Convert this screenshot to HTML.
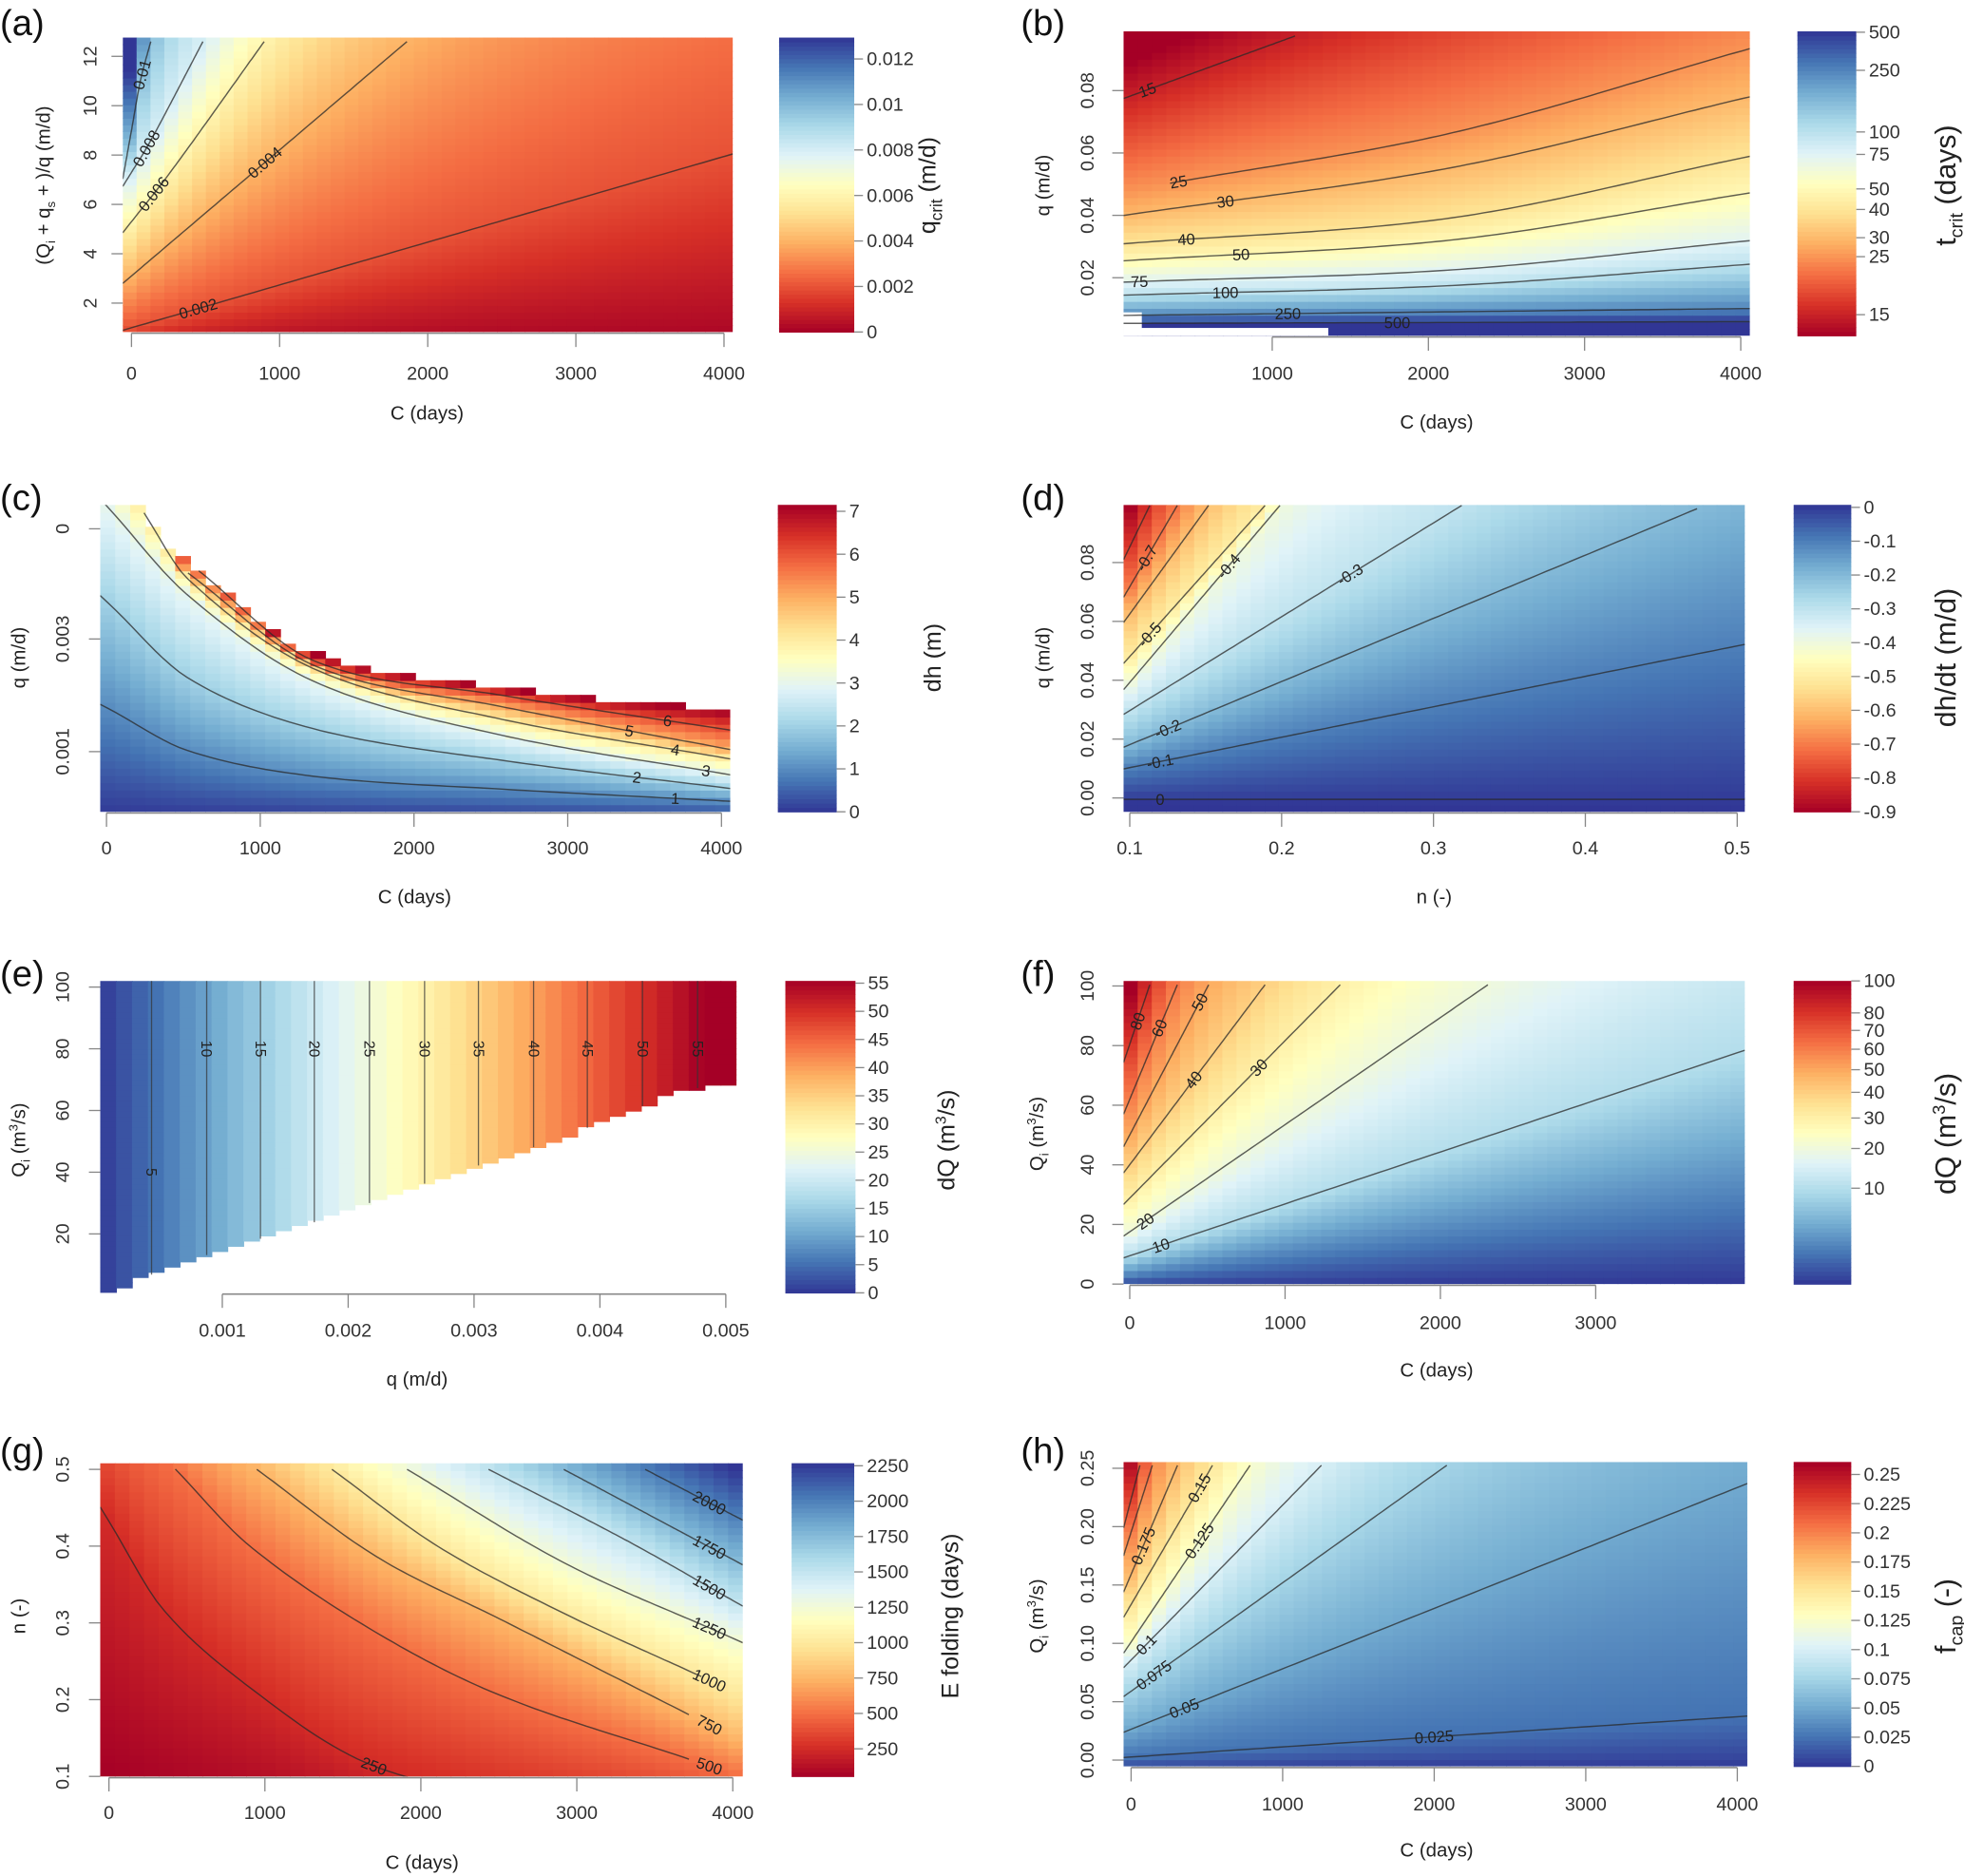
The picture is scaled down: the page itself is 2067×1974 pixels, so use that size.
<!DOCTYPE html>
<html>
<head>
<meta charset="utf-8">
<style>
html,body{margin:0;padding:0;background:#fff;}
svg{display:block;}
text{font-family:"Liberation Sans",Arial,sans-serif;fill:#222;}
.tick{font-size:15px;fill:#333;}
.ttl{font-size:15.5px;fill:#222;}
.letter{font-size:29px;fill:#111;}
.cbt{font-size:19px;fill:#222;}
.cbtb{font-size:23px;fill:#222;}
</style>
</head>
<body>
<svg id="fig" width="2067" height="1974" viewBox="0 0 1568 1497.5" preserveAspectRatio="none" xmlns="http://www.w3.org/2000/svg">
<rect x="0" y="0" width="1568" height="1497.5" fill="#fff"/>
<g id="plots"></g>
<text class="letter" x="0" y="28">(a)</text>
<text class="letter" x="815" y="28">(b)</text>
<text class="letter" x="0" y="407">(c)</text>
<text class="letter" x="815" y="407">(d)</text>
<text class="letter" x="0" y="787">(e)</text>
<text class="letter" x="815" y="787">(f)</text>
<text class="letter" x="0" y="1168">(g)</text>
<text class="letter" x="815" y="1168">(h)</text>
<text class="ttl" x="341" y="335" text-anchor="middle">C (days)</text>
<text class="ttl" x="1147" y="342" text-anchor="middle">C (days)</text>
<text class="ttl" x="331" y="721" text-anchor="middle">C (days)</text>
<text class="ttl" x="1145" y="721" text-anchor="middle">n (-)</text>
<text class="ttl" x="333" y="1106" text-anchor="middle">q (m/d)</text>
<text class="ttl" x="1147" y="1099" text-anchor="middle">C (days)</text>
<text class="ttl" x="337" y="1492" text-anchor="middle">C (days)</text>
<text class="ttl" x="1147" y="1482" text-anchor="middle">C (days)</text>
<text class="ttl" transform="translate(40,148) rotate(-90)" text-anchor="middle">(Q<tspan font-size="10" dy="4">i</tspan><tspan dy="-4"> + q</tspan><tspan font-size="10" dy="4">s</tspan><tspan dy="-4"> + )/q (m/d)</tspan></text>
<text class="ttl" transform="translate(838,148) rotate(-90)" text-anchor="middle">q (m/d)</text>
<text class="ttl" transform="translate(20,525) rotate(-90)" text-anchor="middle">q (m/d)</text>
<text class="ttl" transform="translate(838,525) rotate(-90)" text-anchor="middle">q (m/d)</text>
<text class="ttl" transform="translate(20,910) rotate(-90)" text-anchor="middle">Q<tspan font-size="10" dy="4">i</tspan><tspan dy="-4"> (m</tspan><tspan font-size="10" dy="-6">3</tspan><tspan dy="6">/s)</tspan></text>
<text class="ttl" transform="translate(833,905) rotate(-90)" text-anchor="middle">Q<tspan font-size="10" dy="4">i</tspan><tspan dy="-4"> (m</tspan><tspan font-size="10" dy="-6">3</tspan><tspan dy="6">/s)</tspan></text>
<text class="ttl" transform="translate(20,1290) rotate(-90)" text-anchor="middle">n (-)</text>
<text class="ttl" transform="translate(833,1290) rotate(-90)" text-anchor="middle">Q<tspan font-size="10" dy="4">i</tspan><tspan dy="-4"> (m</tspan><tspan font-size="10" dy="-6">3</tspan><tspan dy="6">/s)</tspan></text>
<text class="cbt" transform="translate(747,148) rotate(-90)" text-anchor="middle">q<tspan font-size="13" dy="5">crit</tspan><tspan dy="-5"> (m/d)</tspan></text>
<text class="cbtb" transform="translate(1561,148) rotate(-90)" text-anchor="middle">t<tspan font-size="15" dy="6">crit</tspan><tspan dy="-6"> (days)</tspan></text>
<text class="cbt" transform="translate(751,525) rotate(-90)" text-anchor="middle">dh (m)</text>
<text class="cbtb" transform="translate(1561,525) rotate(-90)" text-anchor="middle">dh/dt (m/d)</text>
<text class="cbt" transform="translate(762,910) rotate(-90)" text-anchor="middle">dQ (m<tspan font-size="12" dy="-7">3</tspan><tspan dy="7">/s)</tspan></text>
<text class="cbtb" transform="translate(1561,905) rotate(-90)" text-anchor="middle">dQ (m<tspan font-size="14" dy="-8">3</tspan><tspan dy="8">/s)</tspan></text>
<text class="cbt" transform="translate(765,1290) rotate(-90)" text-anchor="middle">E folding (days)</text>
<text class="cbtb" transform="translate(1561,1290) rotate(-90)" text-anchor="middle">f<tspan font-size="15" dy="6">cap</tspan><tspan dy="-6"> (-)</tspan></text>
</svg>
<script>
// (a) q_crit
const aLevels = [0, 0.002, 0.004, 0.006, 0.008, 0.01, 0.012];
const aLabels = [null, "0.002", "0.004", "0.006", "0.008", "0.01", null];
const aLabelX = [0, 450, 900, 150, 100, 70, 0];
const aContours = [
  [[0,0],[4000,0]],
  [[0,1.0],[4000,7.94]],
  [[0,3.1],[1860,12.6]],
  [[0,5.3],[262,7.3],[896,12.6]],
  [[0,7.3],[93,8.2],[203,9.4],[482,12.6]],
  [[0,9.0],[60,11],[130,12.6]],
  [[0,11.0],[40,12.6]]
];
const aXTicks = [0,1000,2000,3000,4000];
const aXTickLabels = ["0","1000","2000","3000","4000"];
const aYTicks = [2,4,6,8,10,12];
const aYTickLabels = ["2","4","6","8","10","12"];
const aCbTicks = [0,0.002,0.004,0.006,0.008,0.01,0.012];
const aCbTickLabels = ["0","0.002","0.004","0.006","0.008","0.01","0.012"];

// (b) t_crit (listed bottom to top)
const bLevels = [500,250,100,75,50,40,30,25,15];
const bLabels = ["500","250","100","75","50","40","30","25","15"];
const bLabelX = [1800,1100,700,150,800,450,700,400,200];
const bContours = [
  [[266,0.0054],[3998,0.0059]],
  [[186,0.008],[3998,0.0101]],
  [[106,0.0145],[2148,0.0175],[3998,0.0241]],
  [[106,0.0187],[2148,0.0225],[3998,0.0316]],
  [[106,0.0256],[2148,0.0321],[3998,0.0467]],
  [[106,0.0311],[2148,0.0392],[3998,0.0583]],
  [[106,0.0404],[2148,0.0553],[3998,0.0773]],
  [[346,0.0503],[2148,0.0664],[3998,0.0926]],
  [[105,0.0785],[1146,0.0975]]
];
const bNotchC = [165, 1359];
const bNotchQ = [0.0089, 0.0039];
const bXTicks = [1000,2000,3000,4000];
const bXTickLabels = ["1000","2000","3000","4000"];
const bYTicks = [0.02,0.04,0.06,0.08];
const bYTickLabels = ["0.02","0.04","0.06","0.08"];
const bCbTicks = [15,25,30,40,50,75,100,250,500];
const bCbTickLabels = ["15","25","30","40","50","75","100","250","500"];

// (c) dh
const cLevels = [0,1,2,3,4,5,6,7.2];
const cLabels = [null,"1","2","3","4","5","6",null];
const cLabelX = [0,3700,3450,3900,3700,3400,3650,0];
const cContours = [
  [[0,-0.02],[4000,-0.02]],
  [[24,0.333],[530,0.199],[1344,0.116],[2566,0.074],[3992,0.036]],
  [[24,0.674],[530,0.436],[1344,0.271],[2566,0.168],[3992,0.080]],
  [[24,0.984],[530,0.705],[1344,0.426],[2566,0.250],[3992,0.126]],
  [[244,0.974],[530,0.758],[1344,0.467],[2566,0.302],[3992,0.178]],
  [[530,0.778],[1344,0.478],[2566,0.343],[3992,0.209]],
  [[600,0.785],[1344,0.493],[2566,0.380],[3992,0.271]],
  [[24,1.0],[530,0.788],[1344,0.519],[2566,0.405],[3992,0.333]]
];
const cXTicks = [0,1000,2000,3000,4000];
const cXTickLabels = ["0","1000","2000","3000","4000"];
const cYTicks = [0.196,0.563,0.922];
const cYTickLabels = ["0.001","0.003","0"];
const cCbTicks = [0,1,2,3,4,5,6,7];
const cCbTickLabels = ["0","1","2","3","4","5","6","7"];

// (d) dh/dt
const dLevels = [0,-0.1,-0.2,-0.3,-0.4,-0.5,-0.6,-0.7,-0.8];
const dLabels = ["0","-0.1","-0.2","-0.3","-0.4","-0.5",null,"-0.7",null];
const dLabelX = [0.12,0.12,0.125,0.245,0.165,0.113,0,0.111,0];
const dContours = [
  [[0.1,-0.0005],[0.5,-0.0005]],
  [[0.1,0.0103],[0.4984,0.0515]],
  [[0.1,0.0181],[0.4736,0.0983]],
  [[0.1025,0.0305],[0.3186,0.0994]],
  [[0.1025,0.0408],[0.1989,0.0994]],
  [[0.1025,0.0495],[0.1891,0.0994]],
  [[0.1025,0.0643],[0.1519,0.0994]],
  [[0.1025,0.0740],[0.1313,0.0994]],
  [[0.1025,0.0880],[0.1132,0.0994]]
];
const dXTicks = [0.1,0.2,0.3,0.4,0.5];
const dXTickLabels = ["0.1","0.2","0.3","0.4","0.5"];
const dYTicks = [0,0.02,0.04,0.06,0.08];
const dYTickLabels = ["0.00","0.02","0.04","0.06","0.08"];
const dCbTicks = [0,-0.1,-0.2,-0.3,-0.4,-0.5,-0.6,-0.7,-0.8,-0.9];
const dCbTickLabels = ["0","-0.1","-0.2","-0.3","-0.4","-0.5","-0.6","-0.7","-0.8","-0.9"];

// (e) dQ vs q
const eLevels = [0,5,10,15,20,25,30,35,40,45,50,55];
const eLevelQ = [0,0.000438,0.000876,0.001303,0.001731,0.002169,0.002607,0.003035,0.003473,0.0039,0.004338,0.004776];
const eBoundQ = [0,0.00008,0.00068,0.00172,0.00272,0.00371,0.00466,0.00508,0.0052];
const eBoundQi = [0,1.0,10.7,23.6,37.9,51.3,66.7,68.7,70];
const eXTicks = [0.001,0.002,0.003,0.004,0.005];
const eXTickLabels = ["0.001","0.002","0.003","0.004","0.005"];
const eYTicks = [20,40,60,80,100];
const eYTickLabels = ["20","40","60","80","100"];
const eCbTicks = [0,5,10,15,20,25,30,35,40,45,50,55];
const eCbTickLabels = ["0","5","10","15","20","25","30","35","40","45","50","55"];

// (f) dQ vs C
const fLevels = [0,10,20,30,40,50,60,80];
const fLabels = [null,"10","20","30","40","50","60","80"];
const fLabelX = [0,200,100,830,411,450,190,50];
const fContours = [
  [[0,-1],[4000,-1]],
  [[24,9.9],[3895,77.3]],
  [[24,18.4],[2306,100.4]],
  [[24,30.1],[1355,100.4]],
  [[24,41.7],[871,100.4]],
  [[24,52.4],[508,100.4]],
  [[24,65],[306,100.4]],
  [[24,84.2],[129,100.4]]
];
const fXTicks = [0,1000,2000,3000];
const fXTickLabels = ["0","1000","2000","3000"];
const fYTicks = [0,20,40,60,80,100];
const fYTickLabels = ["0","20","40","60","80","100"];
const fCbTicks = [10,20,30,40,50,60,70,80,100];
const fCbTickLabels = ["10","20","30","40","50","60","70","80","100"];

// (g) E folding
const gLevels = [0,250,500,750,1000,1250,1500,1750,2000];
const gLabels = [null,"250","500","750","1000","1250","1500","1750","2000"];
const gLabelX = [0,1700,3850,3850,3850,3850,3850,3850,3850];
const gContours = [
  [[0,0],[4000,0]],
  [[8,0.4297],[345,0.3182],[908,0.2151],[1631,0.1193],[2500,0.075],[4000,0.04]],
  [[426,0.5004],[908,0.3993],[1711,0.2878],[2514,0.2052],[3719,0.1226]],
  [[948,0.5],[1711,0.3869],[2514,0.3043],[3719,0.1805]],
  [[1430,0.5],[2112,0.3993],[2916,0.3126],[3799,0.2300]],
  [[1912,0.5],[2916,0.3785],[3960,0.2836]],
  [[2434,0.5],[3317,0.4076],[4000,0.3292]],
  [[2916,0.5],[3960,0.3869]],
  [[3438,0.5],[4000,0.4406]]
];
const gXTicks = [0,1000,2000,3000,4000];
const gXTickLabels = ["0","1000","2000","3000","4000"];
const gYTicks = [0.1,0.2,0.3,0.4,0.5];
const gYTickLabels = ["0.1","0.2","0.3","0.4","0.5"];
const gCbTicks = [250,500,750,1000,1250,1500,1750,2000,2250];
const gCbTickLabels = ["250","500","750","1000","1250","1500","1750","2000","2250"];

// (h) f_cap
const hLevels = [0,0.025,0.05,0.075,0.1,0.125,0.15,0.175,0.2,0.225];
const hLabels = [null,"0.025","0.05","0.075","0.1","0.125","0.15","0.175",null,null];
const hLabelX = [0,2000,350,150,100,450,450,80,0,0];
const hContours = [
  [[0,-0.01],[4000,-0.01]],
  [[17,0.0028],[4008,0.0372]],
  [[17,0.0273],[4025,0.2348]],
  [[17,0.0606],[2083,0.2525]],
  [[17,0.0880],[1256,0.2525]],
  [[17,0.1045],[785,0.2525]],
  [[17,0.1371],[537,0.2525]],
  [[17,0.1643],[306,0.2525]],
  [[17,0.2023],[140,0.2525]],
  [[17,0.2321],[58,0.2525]]
];
const hXTicks = [0,1000,2000,3000,4000];
const hXTickLabels = ["0","1000","2000","3000","4000"];
const hYTicks = [0,0.05,0.1,0.15,0.2,0.25];
const hYTickLabels = ["0.00","0.05","0.10","0.15","0.20","0.25"];
const hCbTicks = [0,0.025,0.05,0.075,0.1,0.125,0.15,0.175,0.2,0.225,0.25];
const hCbTickLabels = ["0","0.025","0.05","0.075","0.1","0.125","0.15","0.175","0.2","0.225","0.25"];

const NS = 'http://www.w3.org/2000/svg';
const root = document.getElementById('plots');
function mk(tag, attrs, parent){
  const e = document.createElementNS(NS, tag);
  for (const k in attrs) e.setAttribute(k, attrs[k]);
  parent.appendChild(e);
  return e;
}
const RDYLBU = [[165,0,38],[215,48,39],[244,109,67],[253,174,97],[254,224,144],[255,255,191],[224,243,248],[171,217,233],[116,173,209],[69,117,180],[49,54,149]];
function cmap(c){
  c = Math.max(0, Math.min(1, c)) * 10;
  const i = Math.min(9, Math.floor(c)); const f = c - i;
  const a = RDYLBU[i], b = RDYLBU[i+1];
  return 'rgb(' + Math.round(a[0]+(b[0]-a[0])*f) + ',' + Math.round(a[1]+(b[1]-a[1])*f) + ',' + Math.round(a[2]+(b[2]-a[2])*f) + ')';
}
// smooth (Hermite) interpolation through points, linear extrapolation outside
function pl(pts, x){
  const n = pts.length;
  if (n === 1) return pts[0][1];
  const sec = i => (pts[i+1][1] - pts[i][1]) / (pts[i+1][0] - pts[i][0]);
  if (x <= pts[0][0]) return pts[0][1] + (x - pts[0][0]) * sec(0);
  if (x >= pts[n-1][0]) return pts[n-1][1] + (x - pts[n-1][0]) * sec(n-2);
  let i = 0;
  while (i < n - 2 && x > pts[i+1][0]) i++;
  if (n === 2) return pts[0][1] + (x - pts[0][0]) * sec(0);
  const tan = k => {
    if (k === 0) return sec(0);
    if (k === n - 1) return sec(n - 2);
    return (pts[k+1][1] - pts[k-1][1]) / (pts[k+1][0] - pts[k-1][0]);
  };
  const x1 = pts[i][0], x2 = pts[i+1][0], h = x2 - x1;
  const t = (x - x1) / h;
  const y1 = pts[i][1], y2 = pts[i+1][1];
  const m1 = tan(i) * h, m2 = tan(i+1) * h;
  const t2 = t*t, t3 = t2*t;
  return (2*t3 - 3*t2 + 1) * y1 + (t3 - 2*t2 + t) * m1 + (-2*t3 + 3*t2) * y2 + (t3 - t2) * m2;
}
function contourField(P, x, y){
  const ys = P.contours.map(c => pl(c, x));
  const ss = P.levels.map(P.sc);
  const n = ys.length;
  let i = 0;
  while (i < n && y >= ys[i]) i++;
  let s, above = false;
  if (i === 0) {
    const d = ys[1] - ys[0];
    s = ss[0] + (Math.abs(d) > 1e-12 ? (y - ys[0]) * (ss[1] - ss[0]) / d : 0);
  } else if (i === n) {
    const d = ys[n-1] - ys[n-2];
    s = ss[n-1] + (d > 1e-12 ? (y - ys[n-1]) * (ss[n-1] - ss[n-2]) / d : (ss[n-1] - ss[n-2]));
    above = true;
  } else {
    const d = ys[i] - ys[i-1];
    s = ss[i-1] + (d > 1e-12 ? (y - ys[i-1]) / d * (ss[i] - ss[i-1]) : 0);
  }
  return {s: s, above: above};
}

const panels = [
 {key:'a', box:[98,30,585,265], xr:[-59,4059], yr:[0.83,12.76], cb:[622,30,682,265],
  levels:aLevels, contours:aContours, labels:aLabels, labelX:aLabelX, sc:v=>v/0.01294, blueHigh:true,
  xTicks:aXTicks, xTickLabels:aXTickLabels, yTicks:aYTicks, yTickLabels:aYTickLabels, cbTicks:aCbTicks, cbTickLabels:aCbTickLabels, yLabX:72, xLabY:298, nx:44, ny:44},
 {key:'b', box:[897,25,1397,268], xr:[48,4058], yr:[0.0014,0.099], cb:[1435,25,1482,268],
  levels:bLevels, contours:bContours, labels:bLabels, labelX:bLabelX, sc:v=>(403-760*Math.pow(v,-0.25))/243, blueHigh:true,
  xTicks:bXTicks, xTickLabels:bXTickLabels, yTicks:bYTicks, yTickLabels:bYTickLabels, cbTicks:bCbTicks, cbTickLabels:bCbTickLabels, yLabX:868, xLabY:298, nx:44, ny:44},
 {key:'c', box:[80,403,583,648], xr:[-41,4057], yr:[0,1], cb:[621,403,668,648],
  levels:cLevels, contours:cContours, labels:cLabels, labelX:cLabelX, sc:v=>v/7.15, blueHigh:false, whiteAbove:true,
  xTicks:cXTicks, xTickLabels:cXTickLabels, yTicks:cYTicks, yTickLabels:cYTickLabels, cbTicks:cCbTicks, cbTickLabels:cCbTickLabels, yLabX:50, xLabY:677, nx:42, ny:42},
 {key:'d', box:[897,403,1393,648], xr:[0.0959,0.505], yr:[-0.0047,0.0996], cb:[1432,403,1478,648],
  levels:dLevels, contours:dContours, labels:dLabels, labelX:dLabelX, sc:v=>(v+0.9)/0.9074, blueHigh:true,
  xTicks:dXTicks, xTickLabels:dXTickLabels, yTicks:dYTicks, yTickLabels:dYTickLabels, cbTicks:dCbTicks, cbTickLabels:dCbTickLabels, yLabX:868, xLabY:677, nx:44, ny:44},
 {key:'e', box:[80,783,588,1032], xr:[0.00003,0.005085], yr:[0.9,102], cb:[627,783,683,1032],
  sc:v=>v/55.4, blueHigh:false, bands:true,
  xTicks:eXTicks, xTickLabels:eXTickLabels, yTicks:eYTicks, yTickLabels:eYTickLabels, cbTicks:eCbTicks, cbTickLabels:eCbTickLabels, yLabX:50, xLabY:1062, nx:40, ny:60},
 {key:'f', box:[897,783,1393,1025], xr:[-40,3960], yr:[0,101.7], cb:[1432,783,1478,1025],
  levels:fLevels, contours:fContours, labels:fLabels, labelX:fLabelX, sc:v=>Math.sqrt(Math.max(0,v)/100), blueHigh:false,
  xTicks:fXTicks, xTickLabels:fXTickLabels, yTicks:fYTicks, yTickLabels:fYTickLabels, cbTicks:fCbTicks, cbTickLabels:fCbTickLabels, yLabX:868, xLabY:1056, nx:44, ny:44},
 {key:'g', box:[80,1168,593,1418], xr:[-56,4064], yr:[0.1,0.508], cb:[632,1168,682,1418],
  levels:gLevels, contours:gContours, labels:gLabels, labelX:gLabelX, sc:v=>(v-55)/2213, blueHigh:true,
  xTicks:gXTicks, xTickLabels:gXTickLabels, yTicks:gYTicks, yTickLabels:gYTickLabels, cbTicks:gCbTicks, cbTickLabels:gCbTickLabels, yLabX:50, xLabY:1447, nx:44, ny:44},
 {key:'h', box:[897,1167,1395,1410], xr:[-50,4066], yr:[-0.0054,0.2554], cb:[1432,1167,1478,1410],
  levels:hLevels, contours:hContours, labels:hLabels, labelX:hLabelX, sc:v=>v/0.2607, blueHigh:false,
  xTicks:hXTicks, xTickLabels:hXTickLabels, yTicks:hYTicks, yTickLabels:hYTickLabels, cbTicks:hCbTicks, cbTickLabels:hCbTickLabels, yLabX:868, xLabY:1440, nx:44, ny:44}
];

function px(P, x){ return P.box[0] + (x - P.xr[0]) / (P.xr[1] - P.xr[0]) * (P.box[2] - P.box[0]); }
function py(P, y){ return P.box[3] - (y - P.yr[0]) / (P.yr[1] - P.yr[0]) * (P.box[3] - P.box[1]); }
function col(P, s){ return cmap(P.blueHigh ? s : 1 - s); }

panels.forEach(P => {
  const g = mk('g', {}, root);
  
  
  const [x0, y0, x1, y1] = P.box;
  const clipId = 'clip-' + P.key;
  const cp = mk('clipPath', {id: clipId}, g);
  mk('rect', {x: x0, y: y0, width: x1 - x0, height: y1 - y0}, cp);

  const hm = mk('g', {'clip-path': 'url(#' + clipId + ')'}, g);
  
  
  const cw = (x1 - x0) / P.nx, ch = (y1 - y0) / P.ny;
  const eB = eBoundQ.map((q, k) => [q, eBoundQi[k]]);
  const eV = eLevelQ.map((q, k) => [q, eLevels[k]]);
  const linInterp = (pts, x) => {
    let i = 0; while (i < pts.length - 2 && x > pts[i+1][0]) i++;
    const p = pts[i], q = pts[i+1];
    return p[1] + (x - p[0]) * (q[1] - p[1]) / (q[0] - p[0]);
  };
  for (let i = 0; i < P.nx; i++) {
    const xd = P.xr[0] + (i + 0.5) / P.nx * (P.xr[1] - P.xr[0]);
    for (let j = 0; j < P.ny; j++) {
      const yd = P.yr[0] + (j + 0.5) / P.ny * (P.yr[1] - P.yr[0]);
      let s;
      if (P.bands) {
        if (yd < linInterp(eB, xd)) continue;
        s = P.sc(linInterp(eV, xd));
      } else {
        const r = contourField(P, xd, yd);
        if (P.whiteAbove && r.above) continue;
        s = r.s;
      }
      const rc = mk('rect', {x: (x0 + i * cw).toFixed(2), y: (y1 - (j + 1) * ch).toFixed(2), width: (cw + 0.6).toFixed(2), height: (ch + 0.6).toFixed(2), fill: col(P, s)}, hm);
      
      
    }
  }
  if (P.key === 'b') {
    bNotchC.forEach((c, k) => {
      const nr = mk('rect', {x: x0, y: py(P, bNotchQ[k]), width: px(P, c) - x0, height: y1 - py(P, bNotchQ[k]), fill: '#fff'}, hm);
      
      
    });
  }

  const cg = mk('g', {'clip-path': 'url(#' + clipId + ')'}, g);
  
  
  if (P.bands) {
    eLevelQ.forEach((q, k) => {
      if (k === 0) return;
      const by = linInterp(eB, q);
      const ln = mk('line', {x1: px(P, q), y1: py(P, by), x2: px(P, q), y2: y0, stroke: '#333', 'stroke-opacity': 0.7, 'stroke-width': 1}, cg);
      
      
      const ly = k === 1 ? 40 : 80;
      const lt = mk('text', {x: 0, y: 0, transform: 'translate(' + (px(P, q) - 4).toFixed(1) + ',' + py(P, ly).toFixed(1) + ') rotate(90)', 'text-anchor': 'middle', 'font-size': 12, fill: '#555'}, cg);
      lt.textContent = String(eLevels[k]);
      
      
    });
  } else {
    const rng = P.xr[1] - P.xr[0];
    P.contours.forEach((c, k) => {
      if (P.labels[k] === null && !(P.key === 'd' && k > 0) && !(P.key === 'h' && k > 0)) return;
      let xa = c[0][0], xb = c[c.length-1][0];
      if (xa - P.xr[0] < 0.06 * rng) xa = P.xr[0];
      if (P.xr[1] - xb < 0.06 * rng) xb = P.xr[1];
      const M = 80;
      let d = '';
      for (let m = 0; m <= M; m++) {
        const xx = xa + (xb - xa) * m / M;
        d += (m ? 'L' : 'M') + px(P, xx).toFixed(1) + ',' + py(P, pl(c, xx)).toFixed(1) + ' ';
      }
      const pa = mk('path', {d: d, fill: 'none', stroke: '#2a2a2a', 'stroke-opacity': 0.75, 'stroke-width': 1.1}, cg);
      
      
      if (P.labels[k] !== null) {
        const lx = P.labelX[k];
        const X = px(P, lx), Y = py(P, pl(c, lx));
        const dx = px(P, lx + rng * 0.01) - X, dy = py(P, pl(c, lx + rng * 0.01)) - Y;
        let ang = Math.atan2(dy, dx) * 180 / Math.PI;
        if (ang > 90) ang -= 180; if (ang < -90) ang += 180;
        const lt = mk('text', {x: 0, y: 0, transform: 'translate(' + X.toFixed(1) + ',' + Y.toFixed(1) + ') rotate(' + ang.toFixed(1) + ')', 'text-anchor': 'middle', dy: '0.35em', 'font-size': 12.5, fill: '#555'}, cg);
        lt.textContent = P.labels[k];
        
        
      }
    });
  }

  const xa = mk('g', {}, g);
  
  
  const xl = mk('line', {x1: px(P, P.xTicks[0]), y1: y1 + 1, x2: px(P, P.xTicks[P.xTicks.length-1]), y2: y1 + 1, stroke: '#888', 'stroke-width': 1.2}, xa);
  
  
  P.xTicks.forEach((t, k) => {
    const X = px(P, t);
    const tk = mk('line', {x1: X, y1: y1 + 1, x2: X, y2: y1 + 12, stroke: '#888', 'stroke-width': 1}, xa);
    
    
    const tl = mk('text', {x: X, y: P.xLabY + 5, 'text-anchor': 'middle', class: 'tick'}, xa);
    tl.textContent = P.xTickLabels[k];
    
    
  });
  const ya = mk('g', {}, g);
  
  
  P.yTicks.forEach((t, k) => {
    const Y = py(P, t);
    const tk = mk('line', {x1: x0 - 9, y1: Y, x2: x0, y2: Y, stroke: '#888', 'stroke-width': 1}, ya);
    
    
    const tl = mk('text', {x: 0, y: 0, transform: 'translate(' + (P.yLabX + 5) + ',' + Y.toFixed(1) + ') rotate(-90)', 'text-anchor': 'middle', class: 'tick'}, ya);
    tl.textContent = P.yTickLabels[k];
    
    
  });

  const cbg = mk('g', {}, g);
  
  
  const [c0, cy0, c1, cy1] = P.cb;
  const N = 70, sh = (cy1 - cy0) / N;
  for (let k = 0; k < N; k++) {
    const s = (k + 0.5) / N;
    const r = mk('rect', {x: c0, y: (cy1 - (k + 1) * sh).toFixed(2), width: c1 - c0, height: (sh + 0.5).toFixed(2), fill: col(P, s)}, cbg);
    
    
  }
  P.cbTicks.forEach((t, k) => {
    const Y = cy1 - P.sc(t) * (cy1 - cy0);
    const tk = mk('line', {x1: c1, y1: Y, x2: c1 + 7, y2: Y, stroke: '#888', 'stroke-width': 1}, cbg);
    
    
    const tl = mk('text', {x: c1 + 10, y: Y + 5, class: 'tick'}, cbg);
    tl.textContent = P.cbTickLabels[k];
    
    
  });
});
</script>
</body>
</html>
